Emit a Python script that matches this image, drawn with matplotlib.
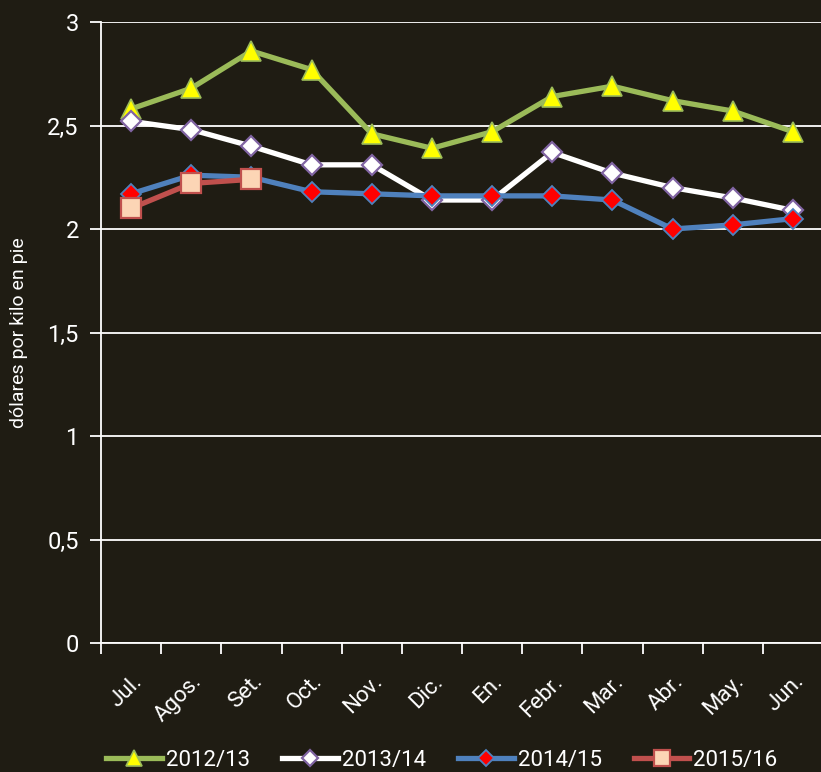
import numpy as np
import matplotlib.pyplot as plt

# monthly prices, dolares por kilo en pie
months = ['Jul.', 'Agos.', 'Set.', 'Oct.', 'Nov.', 'Dic.', 'En.', 'Febr.',
          'Mar.', 'Abr.', 'May.', 'Jun.']
s_2012 = [2.58, 2.68, 2.86, 2.77, 2.46, 2.39, 2.47, 2.64, 2.69, 2.62, 2.57, 2.47]
s_2013 = [2.52, 2.48, 2.40, 2.31, 2.31, 2.14, 2.14, 2.37, 2.27, 2.20, 2.15, 2.09]
s_2014 = [2.17, 2.26, 2.25, 2.18, 2.17, 2.16, 2.16, 2.16, 2.14, 2.00, 2.02, 2.05]
s_2015 = [2.10, 2.22, 2.24]
yticks = [0, 0.5, 1, 1.5, 2, 2.5, 3]
ytick_labels = ['0', '0,5', '1', '1,5', '2', '2,5', '3']

bg = '#1f1c13'
plt.rcParams['font.family'] = ['Roboto', 'DejaVu Sans']

fig = plt.figure(figsize=(8.21, 7.72), dpi=100, facecolor=bg)
ax = fig.add_axes([101/821, 129/772, 722/821, 621/772], facecolor=bg)

x = np.arange(len(months))

ax.plot(x, s_2012, color='#9bbb59', lw=3.8, marker='^', ms=14,
        mfc='#ffff00', mec='#9bbb59', mew=1.2, label='2012/13', zorder=3)
ax.plot(x, s_2013, color='white', lw=3.8, marker='D', ms=10,
        mfc='white', mec='#8064a2', mew=1.6, label='2013/14', zorder=4)
ax.plot(x, s_2014, color='#4f81bd', lw=3.8, marker='D', ms=10,
        mfc='#ff0000', mec='#4f81bd', mew=1.3, label='2014/15', zorder=5)
ax.plot(x[:len(s_2015)], s_2015, color='#c0504d', lw=3.8, marker='s', ms=14,
        mfc='#fcd5b5', mec='#c0504d', mew=1.6, label='2015/16', zorder=6)

ax.set_xlim(-0.5, 11.5)
ax.set_ylim(0, 3)
ax.set_yticks(yticks)
ax.set_yticklabels(ytick_labels)
ax.grid(axis='y', color='white', lw=1.3, zorder=1)

# ticks on category boundaries, labels centred
ax.set_xticks(np.arange(-0.5, 11.5, 1))
ax.set_xticklabels([])
ax.set_xticks(x, minor=True)
ax.set_xticklabels(months, minor=True, rotation=45, ha='right',
                   rotation_mode='anchor', color='white', fontsize=16)
ax.tick_params(axis='x', which='major', length=8, color='white', width=1.3,
               direction='out')
ax.tick_params(axis='x', which='minor', length=0, pad=20)
ax.tick_params(axis='y', length=8, color='white', width=1.3, labelcolor='white',
               labelsize=17, pad=8)

for side in ['top', 'right']:
    ax.spines[side].set_visible(False)
ax.spines['left'].set_color('white')
ax.spines['bottom'].set_color('white')
ax.spines['left'].set_linewidth(1.3)
ax.spines['bottom'].set_linewidth(1.3)

ax.set_ylabel('dólares por kilo en pie', color='white', fontsize=14,
              labelpad=14)

leg = ax.legend(loc='center', bbox_to_anchor=(0.5 - 20/722, -0.189), ncol=4,
                frameon=False, fontsize=16, handlelength=2.5, columnspacing=1.45,
                handletextpad=0.18, labelcolor='white', markerscale=0.85)

fig.savefig('out.png', dpi=100, facecolor=bg)
